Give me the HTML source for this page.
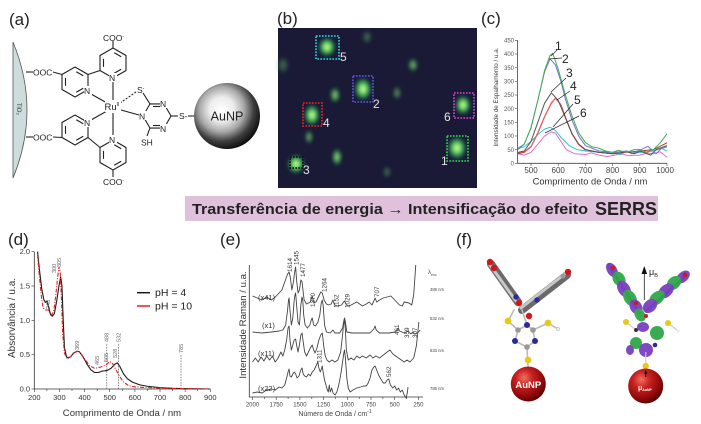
<!DOCTYPE html>
<html><head><meta charset="utf-8"><style>
html,body{margin:0;padding:0;background:#fff;}
svg{display:block;font-family:"Liberation Sans",sans-serif;}
</style></head><body>
<svg width="701" height="424" viewBox="0 0 701 424" xmlns="http://www.w3.org/2000/svg">
<defs>
<radialGradient id="au" cx="42%" cy="40%" r="62%">
<stop offset="0" stop-color="#ffffff"/><stop offset="0.3" stop-color="#ececec"/><stop offset="0.55" stop-color="#a8a8a8"/><stop offset="0.78" stop-color="#3e3e3e"/><stop offset="1" stop-color="#0e0e0e"/>
</radialGradient>
<radialGradient id="spot" cx="50%" cy="50%" r="50%">
<stop offset="0" stop-color="#e8ffa0"/><stop offset="0.28" stop-color="#7fe36a"/><stop offset="0.6" stop-color="#2a9d58" stop-opacity="0.85"/><stop offset="1" stop-color="#1b1a33" stop-opacity="0"/>
</radialGradient>
<radialGradient id="red" cx="38%" cy="32%" r="70%">
<stop offset="0" stop-color="#f07060"/><stop offset="0.35" stop-color="#c82020"/><stop offset="0.8" stop-color="#8a0808"/><stop offset="1" stop-color="#5a0000"/>
</radialGradient>
<filter id="blur" x="-50%" y="-50%" width="200%" height="200%"><feGaussianBlur stdDeviation="1.6"/></filter>
</defs>

<!-- ============ (a) ============ -->
<text x="9" y="25" font-size="17" fill="#222">(a)</text>
<path d="M13,42 Q41,110 13,178 Z" fill="#cddcdc" stroke="#555" stroke-width="0.8"/>
<text x="0" y="0" font-size="6" fill="#333" transform="translate(17,103) rotate(90)">TiO₂</text>
<g stroke="#222" stroke-width="1.1" fill="none">
<line x1="26" y1="72" x2="33" y2="72"/>
<line x1="26" y1="137" x2="33" y2="137"/>
<line x1="53" y1="72" x2="62" y2="74.5"/>
<line x1="53" y1="137" x2="62" y2="137.5"/>
<polygon points="75,67 88,74.5 88,89.5 75,97 62,89.5 62,74.5"/>
<polygon points="113,48 126,55.5 126,70.5 113,78 100,70.5 100,55.5"/>
<polygon points="75,115 88,122.5 88,137.5 75,145 62,137.5 62,122.5"/>
<polygon points="113,140 126,147.5 126,162.5 113,170 100,162.5 100,147.5"/>
<g stroke-dasharray="8 14" stroke-dashoffset="-1.5">
<polygon points="75,71 84.5,76.5 84.5,87.5 75,93 65.5,87.5 65.5,76.5"/>
<polygon points="113,52 122.5,57.5 122.5,68.5 113,74 103.5,68.5 103.5,57.5"/>
<polygon points="75,119 84.5,124.5 84.5,135.5 75,141 65.5,135.5 65.5,124.5"/>
<polygon points="113,144 122.5,149.5 122.5,160.5 113,166 103.5,160.5 103.5,149.5"/>
</g>
<line x1="88" y1="74.5" x2="100" y2="70.5"/>
<line x1="88" y1="137.5" x2="100" y2="147.5"/>
<line x1="113" y1="48" x2="113" y2="41"/>
<line x1="113" y1="170" x2="113" y2="177"/>
<line x1="91" y1="94" x2="107" y2="103"/>
<line x1="113" y1="81" x2="113" y2="100"/>
<line x1="91" y1="120" x2="107" y2="111"/>
<line x1="113" y1="113" x2="113" y2="137"/>
<line x1="121" y1="110" x2="139" y2="115"/>
<line x1="120" y1="103" x2="136" y2="92" stroke-dasharray="2 1.5"/>
<polygon points="143,116 150,103.9 164,103.9 171,116 164,128.1 150,128.1"/>
<line x1="153" y1="106.5" x2="161" y2="106.5"/>
<line x1="153" y1="125.5" x2="161" y2="125.5"/>
<line x1="150" y1="103.9" x2="143" y2="93"/>
<line x1="150" y1="128.1" x2="147" y2="136"/>
<line x1="171" y1="116" x2="178" y2="116"/>
<line x1="188" y1="116" x2="195" y2="116"/>
</g>
<g font-size="8.5" fill="#222">
<rect x="84" y="86" width="8" height="9" fill="#fff"/><text x="84" y="94">N</text>
<rect x="109" y="73" width="8" height="9" fill="#fff"/><text x="109" y="81">N</text>
<rect x="84" y="118" width="8" height="9" fill="#fff"/><text x="84" y="126">N</text>
<rect x="109" y="135" width="8" height="9" fill="#fff"/><text x="109" y="143">N</text>
<rect x="139" y="111" width="8" height="9" fill="#fff"/><text x="139" y="119.5">N</text>
<rect x="160" y="99" width="8" height="9" fill="#fff"/><text x="160" y="107">N</text>
<rect x="160" y="124" width="8" height="9" fill="#fff"/><text x="160" y="132">N</text>
<rect x="105" y="101" width="16" height="11" fill="#fff"/><text x="104.5" y="110" font-size="9.5">Ru<tspan font-size="5" dy="-4">II</tspan></text>
<text x="33" y="75.5">OOC</text>
<text x="33" y="140.5">OOC</text>
<text x="103" y="41">COO<tspan font-size="5" dy="-3">-</tspan></text>
<text x="103" y="185">COO<tspan font-size="5" dy="-3">-</tspan></text>
<text x="137" y="93">S<tspan font-size="5" dy="-3">-</tspan></text>
<text x="141" y="145.5">SH</text>
<text x="179" y="119">S-</text>
</g>
<circle cx="227" cy="116" r="33" fill="url(#au)"/>
<text x="227" y="120.5" font-size="12.5" text-anchor="middle" fill="#222">AuNP</text>

<!-- ============ (b) ============ -->
<text x="277" y="24" font-size="17" fill="#222">(b)</text>
<rect x="278" y="28" width="199" height="160" fill="#1a1a36"/>
<g fill="url(#spot)" filter="url(#blur)">
<ellipse cx="283" cy="65" rx="7" ry="10" opacity="0.3"/>
<ellipse cx="367" cy="37" rx="6" ry="8" opacity="0.3"/>
<ellipse cx="387" cy="172" rx="5" ry="7" opacity="0.3"/>
<ellipse cx="397" cy="93" rx="5" ry="8" opacity="0.45"/>
<ellipse cx="413" cy="65" rx="6" ry="8" opacity="0.6"/>
<ellipse cx="335" cy="95" rx="6" ry="9" opacity="0.7"/>
<ellipse cx="337" cy="157" rx="6" ry="10" opacity="0.75"/>
<ellipse cx="309" cy="137" rx="5" ry="8" opacity="0.55"/>
<ellipse cx="327" cy="47" rx="10" ry="11"/>
<ellipse cx="363" cy="89" rx="10" ry="13"/>
<ellipse cx="312" cy="115" rx="9" ry="12"/>
<ellipse cx="296" cy="164" rx="10" ry="11"/>
<ellipse cx="463" cy="105" rx="9" ry="11"/>
<ellipse cx="457" cy="148" rx="11" ry="13"/>
</g>
<g fill="none" stroke-width="1.8" stroke-dasharray="1.6 1.4">
<rect x="316" y="36" width="23" height="23" stroke="#2cc0d0"/>
<rect x="353" y="76" width="20" height="26" stroke="#5a50d0"/>
<rect x="303" y="103" width="19" height="23" stroke="#e02020"/>
<rect x="290" y="157" width="13" height="11" stroke="#111"/>
<rect x="454" y="93" width="20" height="25" stroke="#c040c0"/>
<rect x="447" y="136" width="21" height="25" stroke="#30c050"/>
</g>
<g font-size="12" fill="#e4e4e4">
<text x="340" y="61">5</text><text x="373" y="108">2</text><text x="323" y="127">4</text>
<text x="303" y="174">3</text><text x="444" y="121">6</text><text x="441" y="165">1</text>
</g>

<!-- ============ (c) ============ -->
<text x="481" y="24" font-size="17" fill="#222">(c)</text>
<g stroke="#444" stroke-width="0.8">
<line x1="517.4" y1="40" x2="517.4" y2="163.3"/>
<line x1="517.4" y1="163.3" x2="667" y2="163.3"/>
<g stroke-width="0.6">
<line x1="515" y1="163.3" x2="517.4" y2="163.3"/><line x1="515" y1="149.6" x2="517.4" y2="149.6"/><line x1="515" y1="136" x2="517.4" y2="136"/><line x1="515" y1="122.3" x2="517.4" y2="122.3"/><line x1="515" y1="108.6" x2="517.4" y2="108.6"/><line x1="515" y1="95" x2="517.4" y2="95"/><line x1="515" y1="81.3" x2="517.4" y2="81.3"/><line x1="515" y1="67.6" x2="517.4" y2="67.6"/><line x1="515" y1="54" x2="517.4" y2="54"/><line x1="515" y1="40.3" x2="517.4" y2="40.3"/>
<line x1="531" y1="163.3" x2="531" y2="166"/><line x1="558.2" y1="163.3" x2="558.2" y2="166"/><line x1="585.4" y1="163.3" x2="585.4" y2="166"/><line x1="612.6" y1="163.3" x2="612.6" y2="166"/><line x1="639.8" y1="163.3" x2="639.8" y2="166"/><line x1="667" y1="163.3" x2="667" y2="166"/>
</g></g>
<g font-size="6" fill="#555" text-anchor="end">
<text x="514" y="165.5">0</text><text x="514" y="151.8">50</text><text x="514" y="138.2">100</text><text x="514" y="124.5">150</text><text x="514" y="110.8">200</text><text x="514" y="97.2">250</text><text x="514" y="83.5">300</text><text x="514" y="69.8">350</text><text x="514" y="56.2">400</text><text x="514" y="42.5">450</text>
</g>
<g font-size="8" fill="#444" text-anchor="middle">
<text x="531" y="173">500</text><text x="558.2" y="173">600</text><text x="585.4" y="173">700</text><text x="612.6" y="173">800</text><text x="639.8" y="173">900</text><text x="665" y="173">1000</text>
</g>
<text x="590" y="184.5" font-size="9.3" fill="#333" text-anchor="middle">Comprimento de Onda / nm</text>
<text x="0" y="0" font-size="6.3" fill="#444" text-anchor="middle" transform="translate(498,97) rotate(-90)">Intensidade de Espalhamento / u.a.</text>
<g transform="translate(517.4,163.3) scale(0.272,-0.2733) translate(-450,0)" fill="none" stroke-width="1" stroke-linejoin="round">
<polyline vector-effect="non-scaling-stroke" stroke="#e070c8" points="452,35 475,30 500,40 525,70 550,100 575,115 590,110 610,80 630,50 660,35 700,32 720,38 750,30 780,25 800,28 830,35 860,28 900,30 930,38 950,35 975,42 990,30 1000,22"/>
<polyline vector-effect="non-scaling-stroke" stroke="#30c4dc" points="452,55 475,60 500,80 525,105 550,125 570,132 590,120 610,95 640,65 670,50 700,45 750,40 800,40 830,32 850,45 870,35 900,40 950,45 980,55 1000,45"/>
<polyline vector-effect="non-scaling-stroke" stroke="#c02828" points="452,35 475,40 500,60 525,110 550,170 575,220 590,238 610,215 630,160 650,110 675,70 700,50 750,40 800,35 850,40 900,45 950,50 1000,75"/>
<polyline vector-effect="non-scaling-stroke" stroke="#e86060" points="452,38 475,42 500,62 525,112 550,172 575,222 590,238 610,214 630,158 650,108 675,68 700,48"/>
<polyline vector-effect="non-scaling-stroke" stroke="#555" points="452,40 475,45 500,80 525,150 550,220 575,258 600,230 625,170 650,110 675,70 700,50 750,40 800,35 850,42 880,35 900,45 940,30 960,50 1000,65"/>
<polyline vector-effect="non-scaling-stroke" stroke="#7a70d0" points="452,55 475,70 500,130 525,230 550,335 570,382 590,360 610,300 625,240 650,160 675,100 700,65 750,45 800,40 850,45 880,40 900,48 930,62 960,35 980,55 1000,60"/>
<polyline vector-effect="non-scaling-stroke" stroke="#40b050" points="452,50 475,70 500,130 525,230 550,340 570,395 580,402 600,345 625,255 650,175 675,112 700,76 725,60 740,58 750,55 775,45 800,40 820,48 850,40 880,50 900,50 925,40 950,50 975,75 1000,108"/>
</g>
<g stroke="#222" stroke-width="0.7">
<line x1="557" y1="50" x2="551" y2="56"/>
<line x1="562" y1="58" x2="549" y2="59"/>
<line x1="566" y1="78" x2="551" y2="92"/>
<line x1="570" y1="91" x2="557" y2="100"/>
<line x1="573" y1="104" x2="553" y2="127"/>
<line x1="579" y1="116" x2="545" y2="133"/>
</g>
<g font-size="12" fill="#222">
<text x="555" y="50">1</text><text x="562" y="63">2</text><text x="566" y="77">3</text>
<text x="570" y="90">4</text><text x="574" y="104">5</text><text x="580" y="117">6</text>
</g>

<!-- ============ banner ============ -->
<rect x="185" y="196" width="473" height="25" fill="#dfc1dc"/>
<text x="192" y="214" font-size="14.5" font-weight="bold" fill="#222" textLength="396" lengthAdjust="spacingAndGlyphs">Transferência de energia → Intensificação do  efeito</text>
<text x="595" y="215" font-size="18" font-weight="bold" fill="#222" textLength="62" lengthAdjust="spacingAndGlyphs">SERRS</text>

<!-- ============ (d) ============ -->
<text x="8" y="245" font-size="17" fill="#222">(d)</text>
<g stroke="#333" stroke-width="0.8">
<line x1="34.3" y1="251.7" x2="34.3" y2="389"/>
<line x1="34.3" y1="389" x2="210.3" y2="389"/>
<g stroke-width="0.6">
<line x1="31.5" y1="389" x2="34.3" y2="389"/><line x1="31.5" y1="354.7" x2="34.3" y2="354.7"/><line x1="31.5" y1="320.3" x2="34.3" y2="320.3"/><line x1="31.5" y1="286" x2="34.3" y2="286"/><line x1="31.5" y1="251.7" x2="34.3" y2="251.7"/>
<line x1="34.3" y1="389" x2="34.3" y2="392"/><line x1="46.9" y1="389" x2="46.9" y2="391"/><line x1="59.4" y1="389" x2="59.4" y2="392"/><line x1="72" y1="389" x2="72" y2="391"/><line x1="84.6" y1="389" x2="84.6" y2="392"/><line x1="97.2" y1="389" x2="97.2" y2="391"/><line x1="109.7" y1="389" x2="109.7" y2="392"/><line x1="122.3" y1="389" x2="122.3" y2="391"/><line x1="134.9" y1="389" x2="134.9" y2="392"/><line x1="147.5" y1="389" x2="147.5" y2="391"/><line x1="160" y1="389" x2="160" y2="392"/><line x1="172.6" y1="389" x2="172.6" y2="391"/><line x1="185.2" y1="389" x2="185.2" y2="392"/><line x1="197.7" y1="389" x2="197.7" y2="391"/><line x1="210.3" y1="389" x2="210.3" y2="392"/>
</g></g>
<g font-size="7.5" fill="#333" text-anchor="end">
<text x="30" y="391.5">0.0</text><text x="30" y="357.2">0.5</text><text x="30" y="322.8">1.0</text><text x="30" y="288.5">1.5</text><text x="30" y="254.2">2.0</text>
</g>
<g font-size="7.5" fill="#333" text-anchor="middle">
<text x="34.3" y="400">200</text><text x="59.4" y="400">300</text><text x="84.6" y="400">400</text><text x="109.7" y="400">500</text><text x="134.9" y="400">600</text><text x="160" y="400">700</text><text x="185.2" y="400">800</text><text x="210.3" y="400">900</text>
</g>
<text x="122" y="416" font-size="9.6" fill="#333" text-anchor="middle">Comprimento de Onda / nm</text>
<text x="0" y="0" font-size="10" fill="#333" text-anchor="middle" transform="translate(15,318) rotate(-90)">Absorvância / u.a.</text>
<g stroke="#777" stroke-width="0.9" stroke-dasharray="1.5 1.2">
<line x1="106.7" y1="389" x2="106.7" y2="343"/>
<line x1="118.5" y1="389" x2="118.5" y2="343"/>
<line x1="181" y1="389" x2="181" y2="354"/>
</g>
<g transform="translate(34.3,389) scale(0.2514,-68.7) translate(-200,0)" fill="none">
<polyline vector-effect="non-scaling-stroke" stroke="#1a1a1a" stroke-width="1.1" stroke-linejoin="round" points="213,2.0 220,1.75 230,1.45 238,1.3 244,1.26 250,1.28 256,1.2 265,1.08 272,1.06 280,1.1 290,1.3 298,1.5 305,1.63 310,1.5 315,1.0 320,0.6 328,0.47 335,0.45 345,0.47 355,0.52 369,0.55 380,0.54 395,0.46 410,0.36 425,0.28 440,0.24 455,0.24 470,0.26 490,0.27 505,0.3 520,0.36 530,0.38 540,0.33 555,0.22 570,0.15 590,0.1 620,0.06 650,0.04 700,0.02 750,0.01 800,0.005 900,0"/>
</g>
<polyline fill="none" stroke="#e02020" stroke-width="1.1" stroke-dasharray="4 1.5 1 1.5" points="37.57,255 39.33,275.6 41.34,296.3 43.1,307.9 45.61,310 48.13,310 49.89,313.4 51.9,314.8 53.91,310 55.67,296.3 57.43,279.1 58.94,266.7 60.19,272.2 61.45,299.7 62.71,334 64.47,353.3 66.98,358.1 70.75,356.7 74.52,352.6 77.54,351.2 80.81,353.3 84.58,358.8 89.61,365.6 94.64,368.4 100.92,367 105.95,365 109.72,361.5 112.23,362.9 116.01,369.8 119.78,376.6 123.55,382.1 128.58,385.6 134.86,386.9 147.43,387.6 160,388.3 210.3,389"/>
<g font-size="5.5" fill="#666">
<text transform="translate(50,309) rotate(-90)">248</text>
<text transform="translate(56,273) rotate(-90)">300</text>
<text transform="translate(61,267) rotate(-90)">305</text>
<text transform="translate(79,350) rotate(-90)">369</text>
<text transform="translate(99,365) rotate(-90)">465</text>
<text transform="translate(108,362) rotate(-90)">505</text>
<text transform="translate(117,358) rotate(-90)">528</text>
<text transform="translate(108.7,342) rotate(-90)">488</text>
<text transform="translate(120.5,342) rotate(-90)">532</text>
<text transform="translate(183,353) rotate(-90)">785</text>
</g>
<line x1="137" y1="292.7" x2="150" y2="292.7" stroke="#1a1a1a" stroke-width="1.5"/>
<line x1="137" y1="306" x2="150" y2="306" stroke="#e02020" stroke-width="1.5"/>
<text x="155" y="296" font-size="10.5" fill="#222">pH = 4</text>
<text x="155" y="309.5" font-size="10.5" fill="#222">pH = 10</text>

<!-- ============ (e) ============ -->
<text x="220" y="245" font-size="17" fill="#222">(e)</text>
<g stroke="#333" stroke-width="0.8">
<line x1="249.3" y1="265" x2="249.3" y2="397"/>
<line x1="249.3" y1="397" x2="423" y2="397"/>
<g stroke-width="0.6">
<line x1="252.5" y1="397" x2="252.5" y2="400"/><line x1="264.4" y1="397" x2="264.4" y2="399"/><line x1="276.2" y1="397" x2="276.2" y2="400"/><line x1="288.1" y1="397" x2="288.1" y2="399"/><line x1="299.9" y1="397" x2="299.9" y2="400"/><line x1="311.8" y1="397" x2="311.8" y2="399"/><line x1="323.6" y1="397" x2="323.6" y2="400"/><line x1="335.5" y1="397" x2="335.5" y2="399"/><line x1="347.3" y1="397" x2="347.3" y2="400"/><line x1="359.2" y1="397" x2="359.2" y2="399"/><line x1="371" y1="397" x2="371" y2="400"/><line x1="382.9" y1="397" x2="382.9" y2="399"/><line x1="394.7" y1="397" x2="394.7" y2="400"/><line x1="406.6" y1="397" x2="406.6" y2="399"/><line x1="418.4" y1="397" x2="418.4" y2="400"/>
</g></g>
<g font-size="6" fill="#444" text-anchor="middle">
<text x="252.5" y="406.5">2000</text><text x="276.2" y="406.5">1750</text><text x="299.9" y="406.5">1500</text><text x="323.6" y="406.5">1250</text><text x="347.3" y="406.5">1000</text><text x="371" y="406.5">750</text><text x="394.7" y="406.5">500</text><text x="418.4" y="406.5">250</text>
</g>
<text x="335" y="416" font-size="7" fill="#444" text-anchor="middle">Número de Onda / cm<tspan font-size="5" dy="-3">-1</tspan></text>
<text x="0" y="0" font-size="9.6" fill="#333" text-anchor="middle" transform="translate(246,325) rotate(-90)">Intensidade Raman / u.a.</text>
<g transform="translate(442.1,0) scale(-0.0948,1)" fill="none" stroke="#444" stroke-width="0.9" stroke-linejoin="round">
<polyline vector-effect="non-scaling-stroke" points="2000,296 1950,298 1900,300 1850,297 1800,300 1760,297 1720,293 1690,290 1660,282 1630,274 1614,272 1600,278 1585,290 1570,283 1555,272 1545,267 1535,280 1520,293 1505,290 1490,280 1477,282 1468,290 1455,300 1430,304 1410,303 1390,302 1370,296 1355,303 1330,302 1300,296 1280,292 1264,293 1245,300 1220,304 1200,305 1170,304 1152,300 1135,305 1100,306 1060,305 1040,302 1029,301 1010,305 980,306 940,304 900,302 870,304 840,306 800,304 770,302 740,305 720,301 707,298 690,302 660,300 620,298 580,297 540,296 510,299 480,302 450,305 420,306 400,302 350,303 320,305 300,295 285,275 278,265"/>
<polyline vector-effect="non-scaling-stroke" points="2000,332 1900,333 1800,332 1720,331 1680,330 1650,325 1630,310 1620,300 1614,298 1605,310 1590,325 1575,318 1560,300 1550,294 1545,293 1535,305 1520,322 1505,325 1490,305 1480,298 1477,297 1470,300 1460,315 1445,325 1420,328 1395,325 1380,320 1370,318 1355,325 1335,326 1310,322 1290,315 1275,303 1264,300 1255,305 1240,325 1220,332 1180,333 1152,330 1130,333 1080,333 1050,328 1035,320 1029,318 1020,322 1005,332 950,333 850,333 760,333 720,329 707,326 695,330 660,333 560,333 500,332 470,330 461,328 450,331 400,333 359,331 330,334 307,332 290,334 260,333 230,330"/>
<polyline vector-effect="non-scaling-stroke" points="2000,362 1970,358 1940,362 1910,357 1880,361 1850,356 1820,360 1790,356 1760,362 1730,358 1700,352 1680,356 1660,350 1640,340 1625,328 1614,326 1605,340 1590,350 1575,345 1560,340 1545,339 1535,345 1520,352 1505,345 1490,335 1477,333 1465,342 1450,352 1430,356 1410,352 1390,348 1370,345 1355,350 1340,353 1320,348 1300,340 1280,335 1264,333 1250,345 1235,355 1215,360 1190,362 1160,360 1130,362 1100,360 1070,352 1050,335 1040,325 1029,320 1020,330 1010,350 990,360 960,358 930,360 900,356 870,358 840,356 800,358 760,355 730,358 700,356 660,358 620,355 580,352 550,350 520,354 490,356 460,358 430,360 400,362 370,360 340,362 320,360 300,358 285,352 270,345 245,322"/>
<polyline vector-effect="non-scaling-stroke" points="2000,393 1950,392 1900,393 1850,390 1800,389 1760,390 1720,387 1690,388 1660,385 1640,378 1625,372 1614,369 1605,376 1590,377 1575,374 1560,372 1545,374 1530,378 1510,376 1490,370 1477,368 1465,374 1450,376 1430,377 1410,374 1390,376 1370,372 1350,370 1330,366 1311,362 1300,368 1285,372 1270,368 1264,366 1255,372 1240,380 1225,385 1210,390 1200,392 1190,385 1180,392 1165,388 1150,393 1130,395 1110,392 1090,385 1070,375 1050,362 1035,352 1029,350 1020,358 1005,378 990,388 970,392 940,390 900,388 860,387 830,386 800,386 780,383 760,378 740,370 720,367 707,366 690,370 670,375 640,380 620,383 600,383 580,380 562,379 545,385 520,388 500,386 480,390 460,388 440,392 420,390 400,395 380,398 365,392 360,387"/>
</g>
<g font-size="6.3" fill="#333">
<text transform="translate(292,272) rotate(-90)">1614</text>
<text transform="translate(298.5,265) rotate(-90)">1545</text>
<text transform="translate(305,277) rotate(-90)">1477</text>
<text transform="translate(315,307) rotate(-90)">1370</text>
<text transform="translate(326.5,292) rotate(-90)">1264</text>
<text transform="translate(338.5,308) rotate(-90)">1152</text>
<text transform="translate(349.5,308) rotate(-90)">1029</text>
<text transform="translate(379,297) rotate(-90)">707</text>
<text transform="translate(399,335) rotate(-90)">461</text>
<text transform="translate(409,338) rotate(-90)">359</text>
<text transform="translate(417,338) rotate(-90)">307</text>
<text transform="translate(321.5,363) rotate(-90)">1311</text>
<text transform="translate(391,377) rotate(-90)">562</text>
</g>
<g font-size="7.5" fill="#333">
<text x="258" y="300">(x41)</text><text x="262" y="328">(x1)</text><text x="258" y="356">(x11)</text><text x="258" y="391">(x22)</text>
</g>
<g font-size="4.2" fill="#444">
<text x="428" y="274" font-size="6">λ<tspan font-size="3.5" dy="2">exc</tspan></text>
<text x="430" y="291">488 nm</text><text x="430" y="320">532 nm</text><text x="430" y="352">633 nm</text><text x="430" y="390">785 nm</text>
</g>

<!-- ============ (f) ============ -->
<text x="456" y="245" font-size="17" fill="#222">(f)</text>
<g stroke-linecap="round">
<line x1="491" y1="264" x2="518" y2="302" stroke="#6a6a6a" stroke-width="8"/>
<line x1="490" y1="265" x2="516" y2="301" stroke="#c8c8c8" stroke-width="3"/>
<line x1="567" y1="275" x2="522" y2="310" stroke="#6a6a6a" stroke-width="8"/>
<line x1="566" y1="273" x2="521" y2="308" stroke="#c8c8c8" stroke-width="3"/>
<g stroke="#bbb" stroke-width="1.6">
<line x1="522" y1="310" x2="527" y2="325"/><line x1="508" y1="321" x2="518" y2="330"/><line x1="518" y1="330" x2="527" y2="325"/><line x1="527" y1="325" x2="533" y2="330"/><line x1="533" y1="330" x2="548" y2="323"/><line x1="548" y1="323" x2="558" y2="329"/><line x1="518" y1="330" x2="515" y2="341"/><line x1="515" y1="341" x2="527" y2="347"/><line x1="527" y1="347" x2="535" y2="341"/><line x1="535" y1="341" x2="533" y2="330"/><line x1="527" y1="347" x2="528" y2="366"/><line x1="508" y1="321" x2="514" y2="310"/>
</g></g>
<g>
<circle cx="490" cy="262" r="3.2" fill="#d01818"/><circle cx="494" cy="268" r="3.2" fill="#d01818"/>
<circle cx="568" cy="272" r="3.2" fill="#d01818"/><circle cx="563" cy="276" r="2.5" fill="#999"/>
<circle cx="516" cy="297" r="2.7" fill="#2a2aa0"/><circle cx="519" cy="303" r="3.2" fill="#d01818"/>
<circle cx="537" cy="300" r="2.7" fill="#2a2aa0"/><circle cx="529" cy="316" r="3.2" fill="#d01818"/>
<circle cx="508" cy="321" r="3.4" fill="#e8c818"/><circle cx="548" cy="323" r="3.4" fill="#e8c818"/>
<circle cx="518" cy="330" r="2.8" fill="#999"/><circle cx="533" cy="330" r="2.8" fill="#999"/><circle cx="527" cy="347" r="2.8" fill="#999"/>
<circle cx="527" cy="325" r="3" fill="#2a2aa0"/><circle cx="515" cy="341" r="3" fill="#2a2aa0"/><circle cx="535" cy="341" r="3" fill="#2a2aa0"/>
<circle cx="558" cy="329" r="1.8" fill="#eee" stroke="#999" stroke-width="0.4"/>
<circle cx="528" cy="360" r="3.4" fill="#e8c818"/>
</g>
<circle cx="528.3" cy="384" r="17.5" fill="url(#red)"/>
<text x="528.3" y="388" font-size="9.5" font-weight="bold" fill="#fff" text-anchor="middle">AuNP</text>
<g>
<line x1="608" y1="264" x2="640" y2="314" stroke="#555" stroke-width="3"/>
<line x1="688" y1="274" x2="645" y2="312" stroke="#555" stroke-width="3"/>
<g opacity="0.95">
<ellipse cx="612" cy="270" rx="8" ry="5" transform="rotate(58 612 270)" fill="#7a3fc0"/>
<ellipse cx="619" cy="279" rx="8" ry="6" transform="rotate(58 619 279)" fill="#2fa84a"/>
<ellipse cx="624" cy="289" rx="9" ry="6" transform="rotate(58 624 289)" fill="#7a3fc0"/>
<ellipse cx="630" cy="298" rx="9" ry="6" transform="rotate(58 630 298)" fill="#2fa84a"/>
<ellipse cx="636" cy="307" rx="8" ry="6" transform="rotate(58 636 307)" fill="#7a3fc0"/>
<ellipse cx="640" cy="315" rx="7" ry="5" transform="rotate(58 640 315)" fill="#2fa84a"/>
<ellipse cx="683" cy="277" rx="8" ry="5" transform="rotate(-42 683 277)" fill="#7a3fc0"/>
<ellipse cx="674" cy="283" rx="8" ry="6" transform="rotate(-42 674 283)" fill="#2fa84a"/>
<ellipse cx="666" cy="291" rx="9" ry="6" transform="rotate(-42 666 291)" fill="#7a3fc0"/>
<ellipse cx="657" cy="298" rx="9" ry="6" transform="rotate(-42 657 298)" fill="#2fa84a"/>
<ellipse cx="650" cy="306" rx="8" ry="6" transform="rotate(-42 650 306)" fill="#7a3fc0"/>
<ellipse cx="643" cy="327" rx="6" ry="5" fill="#7a3fc0"/>
<ellipse cx="657" cy="333" rx="7" ry="7" fill="#2fa84a"/>
<ellipse cx="636" cy="343" rx="6" ry="6" fill="#2fa84a"/>
<ellipse cx="646" cy="350" rx="7" ry="7" fill="#7a3fc0"/>
<ellipse cx="630" cy="350" rx="4" ry="5" fill="#7a3fc0"/>
</g>
<g stroke="#ccc" stroke-width="1.2">
<line x1="626" y1="322" x2="636" y2="330"/><line x1="668" y1="323" x2="678" y2="331"/><line x1="645.7" y1="352" x2="645.7" y2="366"/>
</g>
<circle cx="613" cy="268" r="2.2" fill="#d01818"/><circle cx="685" cy="275" r="2.2" fill="#d01818"/>
<circle cx="636" cy="303" r="2" fill="#d01818"/><circle cx="646" cy="316" r="2" fill="#d01818"/>
<circle cx="626" cy="322" r="3" fill="#e8c818"/><circle cx="668" cy="323" r="3" fill="#e8c818"/>
<circle cx="678" cy="331" r="1.6" fill="#eee"/><circle cx="655" cy="345" r="2.3" fill="#2a2aa0"/>
<circle cx="636" cy="330" r="2" fill="#333"/>
<circle cx="645.7" cy="366" r="3.2" fill="#e8c818"/>
<line x1="644.3" y1="300" x2="644.3" y2="273" stroke="#222" stroke-width="0.8"/>
<polygon points="644.3,266 641.5,274 647.1,274" fill="#111"/>
<text x="649" y="275" font-size="9" fill="#222">μ<tspan font-size="5.5" dy="2">B</tspan></text>
</g>
<circle cx="645.7" cy="386" r="17.5" fill="url(#red)"/>
<line x1="645.7" y1="372" x2="645.7" y2="377" stroke="#111" stroke-width="1.2"/>
<polygon points="645.7,370 644,373.5 647.4,373.5" fill="#111"/>
<text x="638" y="390" font-size="7" font-weight="bold" fill="#fff">μ<tspan font-size="3.5" dy="1">AuNP</tspan></text>
</svg>
</body></html>
